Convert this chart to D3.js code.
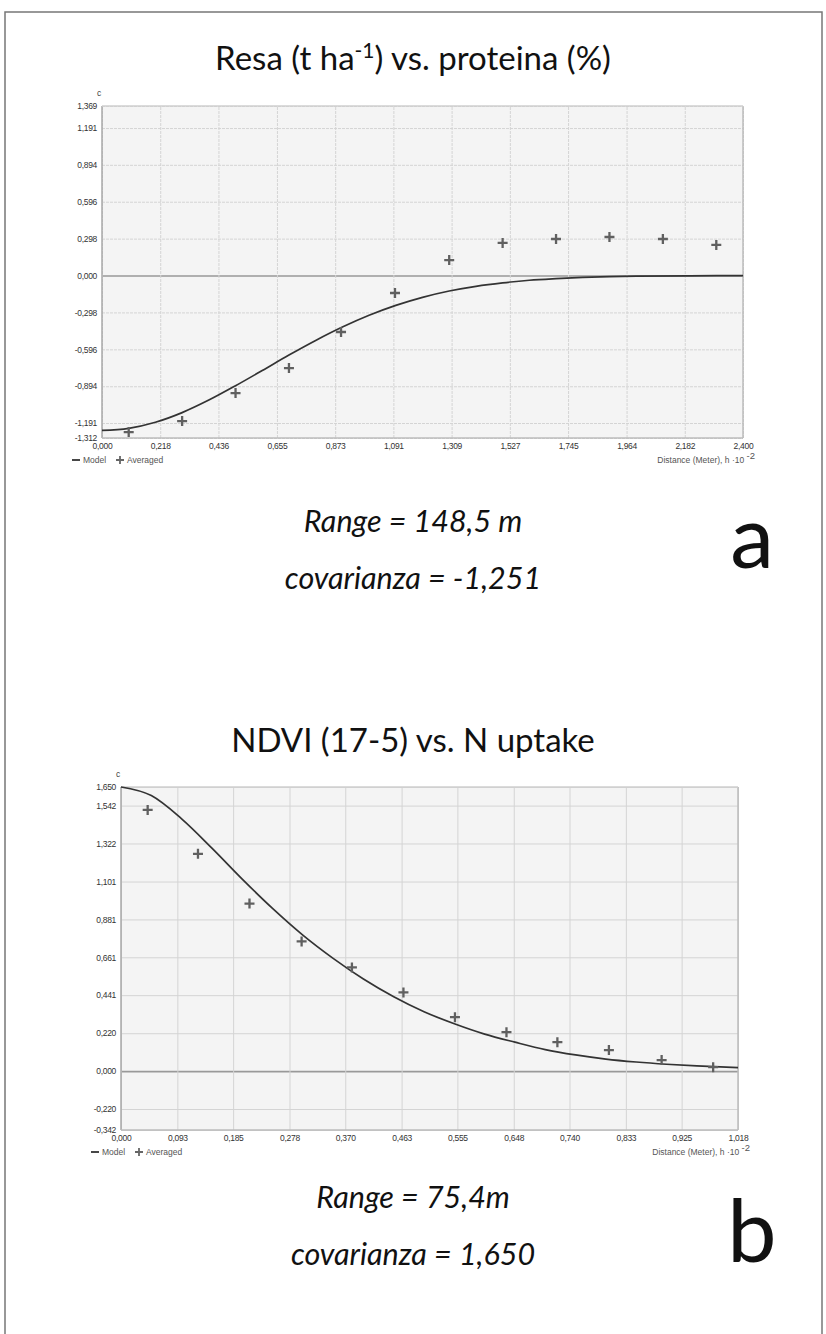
<!DOCTYPE html>
<html>
<head>
<meta charset="utf-8">
<script src="https://cdn.jsdelivr.net/npm/d3@7"></script>
<style>
  body { margin: 0; background: #fff; }
  .small text, text.small { font-family: "Liberation Sans", Arial, sans-serif; }
  .big { font-family: Lato, "Open Sans", sans-serif; fill: #111; }
</style>
</head>
<body>
<div id="chart"></div>
<script>
// ---- panel a: Resa vs proteina ----
const topXTicks = [0, 0.218, 0.436, 0.655, 0.873, 1.091, 1.309, 1.527, 1.745, 1.964, 2.182, 2.400];
const topYTicks = [-1.312, -1.191, -0.894, -0.596, -0.298, 0, 0.298, 0.596, 0.894, 1.191, 1.369];
const topAvgX = [0.10, 0.30, 0.50, 0.70, 0.895, 1.097, 1.30, 1.50, 1.70, 1.90, 2.10, 2.30];
const topAvgY = [-1.264, -1.175, -0.949, -0.747, -0.456, -0.141, 0.125, 0.263, 0.295, 0.311, 0.295, 0.247];
const topModelX = [0, 0.1, 0.2, 0.3, 0.4, 0.5, 0.6, 0.7, 0.8, 0.9, 1.0, 1.1, 1.2, 1.3, 1.4, 1.5, 1.6, 1.7, 1.8, 1.9, 2.0, 2.2, 2.4];
const topModelY = [-1.251, -1.234, -1.185, -1.107, -1.006, -0.890, -0.767, -0.642, -0.524, -0.416, -0.321, -0.241, -0.176, -0.125, -0.087, -0.059, -0.038, -0.025, -0.015, -0.009, -0.005, -0.002, 0.000];

// ---- panel b: NDVI vs N uptake ----
const botXTicks = [0, 0.093, 0.185, 0.278, 0.370, 0.463, 0.555, 0.648, 0.740, 0.833, 0.925, 1.018];
const botYTicks = [-0.342, -0.220, 0, 0.220, 0.441, 0.661, 0.881, 1.101, 1.322, 1.542, 1.650];
const botAvgX = [0.044, 0.127, 0.212, 0.298, 0.381, 0.466, 0.551, 0.636, 0.720, 0.805, 0.892, 0.977];
const botAvgY = [1.517, 1.262, 0.973, 0.753, 0.602, 0.457, 0.313, 0.226, 0.168, 0.122, 0.064, 0.023];
const botModelX = [0, 0.05, 0.10, 0.15, 0.20, 0.25, 0.30, 0.35, 0.40, 0.45, 0.50, 0.55, 0.60, 0.65, 0.70, 0.75, 0.80, 0.85, 0.90, 0.95, 1.018];
const botModelY = [1.650, 1.600, 1.465, 1.295, 1.115, 0.945, 0.790, 0.655, 0.535, 0.432, 0.345, 0.275, 0.215, 0.168, 0.125, 0.094, 0.070, 0.053, 0.040, 0.030, 0.020];

const width = 826, height = 1334;

const locale = d3.formatLocale({decimal: ",", thousands: ".", grouping: [3], currency: ["", ""], minus: "-"});
const fmt = locale.format(".3f");

const svg = d3.select("#chart").append("svg")
    .attr("width", width)
    .attr("height", height);

// outer frame (bottom edge runs off the page)
svg.append("rect")
    .attr("x", 5).attr("y", 12)
    .attr("width", 817).attr("height", 1340)
    .attr("fill", "none")
    .attr("stroke", "#777")
    .attr("stroke-width", 1.5);

function drawPanel({xTicks, yTicks, avgX, avgY, modelX, modelY, left, right, top, bottom, dashed}) {
    const x = d3.scaleLinear().domain([xTicks[0], xTicks[xTicks.length - 1]]).range([left, right]);
    const y = d3.scaleLinear().domain([yTicks[0], yTicks[yTicks.length - 1]]).range([bottom, top]);
    const g = svg.append("g").attr("class", "small");

    g.append("rect")
        .attr("x", left).attr("y", top)
        .attr("width", right - left).attr("height", bottom - top)
        .attr("fill", "#f4f4f4");

    // horizontal grid + y labels
    g.append("g")
        .attr("transform", `translate(${left},0)`)
        .call(d3.axisLeft(y).tickValues(yTicks).tickSize(-(right - left)).tickPadding(5).tickFormat(fmt))
        .call(g => g.select(".domain").remove())
        .call(g => g.selectAll(".tick line")
            .attr("stroke", d => d === 0 ? "#999" : "#d4d4d4")
            .attr("stroke-width", d => d === 0 ? 1.6 : 1)
            .attr("stroke-dasharray", d => (d === 0 || !dashed) ? null : "3,1"))
        .call(g => g.selectAll(".tick text")
            .attr("fill", "#333")
            .attr("font-size", 8.5)
            .attr("letter-spacing", -0.3));

    // vertical grid + x labels
    g.append("g")
        .attr("transform", `translate(0,${bottom})`)
        .call(d3.axisBottom(x).tickValues(xTicks).tickSize(-(bottom - top)).tickPadding(5).tickFormat(fmt))
        .call(g => g.select(".domain").remove())
        .call(g => g.selectAll(".tick line")
            .attr("stroke", "#d4d4d4")
            .attr("stroke-dasharray", dashed ? "3,1" : null))
        .call(g => g.selectAll(".tick text")
            .attr("fill", "#333")
            .attr("font-size", 8.5)
            .attr("letter-spacing", -0.3));

    // plot frame
    g.append("line").attr("x1", left).attr("x2", left).attr("y1", top).attr("y2", bottom)
        .attr("stroke", "#a8a8a8").attr("stroke-width", 1.5);
    g.append("line").attr("x1", right).attr("x2", right).attr("y1", top).attr("y2", bottom)
        .attr("stroke", "#bdbdbd").attr("stroke-width", 1.5);
    g.append("line").attr("x1", left).attr("x2", right).attr("y1", top).attr("y2", top)
        .attr("stroke", "#cfcfcf").attr("stroke-width", 1.5);
    g.append("line").attr("x1", left).attr("x2", right).attr("y1", bottom).attr("y2", bottom)
        .attr("stroke", "#bdbdbd").attr("stroke-width", 1.5);

    // model curve
    const line = d3.line()
        .x(i => x(modelX[i]))
        .y(i => y(modelY[i]))
        .curve(d3.curveMonotoneX);
    g.append("path")
        .attr("d", line(d3.range(modelX.length)))
        .attr("fill", "none")
        .attr("stroke", "#333")
        .attr("stroke-width", 1.7);

    // averaged points
    g.append("g")
        .selectAll("path")
        .data(d3.range(avgX.length))
        .join("path")
            .attr("transform", i => `translate(${x(avgX[i])},${y(avgY[i])})`)
            .attr("d", "M-5,0H5M0,-5V5")
            .attr("stroke", "#606060")
            .attr("stroke-width", 2.3);

    // "c" label
    g.append("text")
        .attr("x", left - 3).attr("y", top - 10)
        .attr("text-anchor", "middle")
        .attr("font-size", 8.5)
        .attr("fill", "#444")
        .text("c");

    // legend
    const ly = bottom + 25;
    g.append("line").attr("x1", left - 30).attr("x2", left - 22).attr("y1", ly - 3).attr("y2", ly - 3)
        .attr("stroke", "#333").attr("stroke-width", 1.8);
    g.append("text").attr("x", left - 19).attr("y", ly).attr("font-size", 8.5).attr("fill", "#555").text("Model");
    g.append("path").attr("transform", `translate(${left + 18},${ly - 3})`)
        .attr("d", "M-4,0H4M0,-4V4").attr("stroke", "#666").attr("stroke-width", 1.8);
    g.append("text").attr("x", left + 25).attr("y", ly).attr("font-size", 8.5).attr("fill", "#555").text("Averaged");

    // x axis label
    const xl = g.append("text")
        .attr("x", right + 12).attr("y", ly)
        .attr("text-anchor", "end")
        .attr("font-size", 8.5)
        .attr("fill", "#555");
    xl.append("tspan").text("Distance (Meter), h ·10 ");
    xl.append("tspan").attr("dy", -4).attr("font-size", 9.5).text("-2");
}

drawPanel({
    xTicks: topXTicks, yTicks: topYTicks,
    avgX: topAvgX, avgY: topAvgY,
    modelX: topModelX, modelY: topModelY,
    left: 102, right: 743, top: 106, bottom: 438, dashed: true
});

drawPanel({
    xTicks: botXTicks, yTicks: botYTicks,
    avgX: botAvgX, avgY: botAvgY,
    modelX: botModelX, modelY: botModelY,
    left: 121, right: 738, top: 787, bottom: 1130, dashed: false
});

// titles
const t1 = svg.append("text")
    .attr("class", "big")
    .attr("x", 413).attr("y", 70)
    .attr("text-anchor", "middle")
    .attr("font-size", 33);
t1.append("tspan").text("Resa (t ha");
t1.append("tspan").attr("dy", -12).attr("font-size", 21).text("-1");
t1.append("tspan").attr("dy", 12).text(") vs. proteina (%)");

svg.append("text")
    .attr("class", "big")
    .attr("x", 413).attr("y", 752)
    .attr("text-anchor", "middle")
    .attr("font-size", 33)
    .text("NDVI (17-5) vs. N uptake");

// model parameters
function params(lines, y0, letter, ly) {
    lines.forEach((s, i) => {
        svg.append("text")
            .attr("class", "big")
            .attr("x", 413).attr("y", y0 + i * 57)
            .attr("text-anchor", "middle")
            .attr("font-style", "italic")
            .attr("font-size", 30.5)
            .text(s);
    });
    svg.append("text")
        .attr("class", "big")
        .attr("x", 752).attr("y", ly)
        .attr("text-anchor", "middle")
        .attr("font-size", 88)
        .text(letter);
}
params(["Range = 148,5 m", "covarianza = -1,251"], 532, "a", 568);
params(["Range = 75,4m", "covarianza = 1,650"], 1208, "b", 1262);
</script>
</body>
</html>
